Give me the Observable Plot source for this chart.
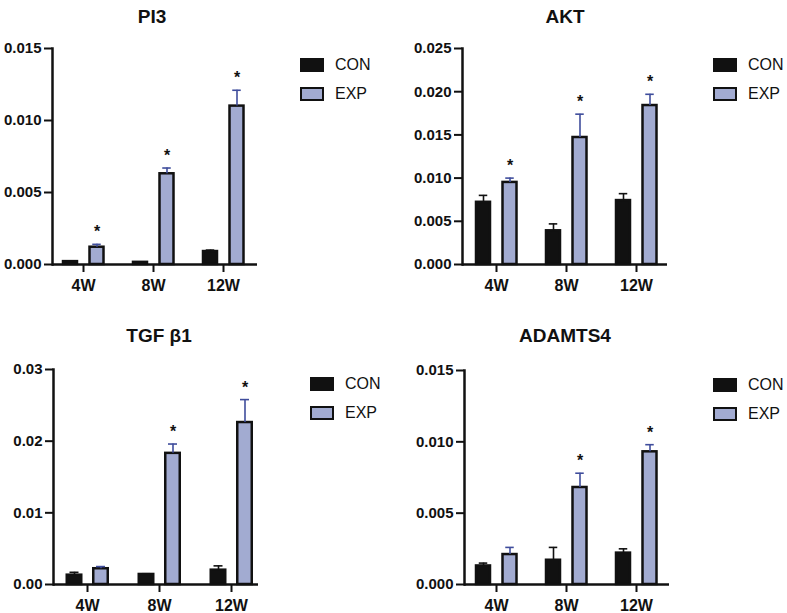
<!DOCTYPE html>
<html>
<head>
<meta charset="utf-8">
<script src="https://cdn.jsdelivr.net/npm/d3@7"></script>
<script src="https://cdn.jsdelivr.net/npm/@observablehq/plot@0.6"></script>
<style>
  body { margin: 0; background: #fff; }
  #chart { position: relative; width: 787px; height: 613px; overflow: hidden; font-family: "Liberation Sans", Arial, sans-serif; color: #111; }
  .abs { position: absolute; }
  .title { font-weight: bold; font-size: 19px; line-height: 1; white-space: nowrap; transform: translateX(-50%); }
  .lg { font-size: 16px; line-height: 1; white-space: nowrap; }
  .box { box-sizing: border-box; width: 24px; height: 14px; border: 2.5px solid #111; }
</style>
</head>
<body>
<div id="chart"></div>
<script>
// ---- data ----
const times = ["4W", "8W", "12W"];
const groups = ["CON", "EXP"];

const pi3Con = [0.0002, 0.00015, 0.0009];
const pi3ConErr = [0.00004, 0.00003, 0.0001];
const pi3Exp = [0.0012, 0.0063, 0.0110];
const pi3ExpErr = [0.0002, 0.0004, 0.0011];
const pi3Sig = [true, true, true];

const aktCon = [0.0072, 0.0039, 0.0074];
const aktConErr = [0.0008, 0.0008, 0.0008];
const aktExp = [0.0095, 0.0147, 0.0184];
const aktExpErr = [0.0005, 0.0027, 0.0013];
const aktSig = [true, true, true];

const tgfCon = [0.0013, 0.0014, 0.0020];
const tgfConErr = [0.0004, 0.0001, 0.0006];
const tgfExp = [0.0022, 0.0183, 0.0226];
const tgfExpErr = [0.0003, 0.0013, 0.0032];
const tgfSig = [false, true, true];

const adaCon = [0.0013, 0.0017, 0.0022];
const adaConErr = [0.0002, 0.0009, 0.0003];
const adaExp = [0.0021, 0.0068, 0.0093];
const adaExpErr = [0.0005, 0.0010, 0.0005];
const adaSig = [false, true, true];

const pi3Ticks = [0, 0.005, 0.010, 0.015];
const aktTicks = [0, 0.005, 0.010, 0.015, 0.020, 0.025];
const tgfTicks = [0, 0.01, 0.02, 0.03];
const adaTicks = [0, 0.005, 0.010, 0.015];

// ---- styles ----
const conColor = "#111111";
const expColor = "#a2abd1";
const expErrColor = "#3f4d9c";
const font = '"Liberation Sans", Arial, sans-serif';

const panels = [
  {title: "PI3", con: pi3Con, conErr: pi3ConErr, exp: pi3Exp, expErr: pi3ExpErr, sig: pi3Sig,
   ticks: pi3Ticks, fmt: d3.format(".3f"),
   L: 0, T: 0, x0: 52, firstTick: 82, step: 70.5, yTop: 48, yBottom: 264,
   titleX: 152, titleY: 16, legX: 300, legY: 58},
  {title: "AKT", con: aktCon, conErr: aktConErr, exp: aktExp, expErr: aktExpErr, sig: aktSig,
   ticks: aktTicks, fmt: d3.format(".3f"),
   L: 390, T: 0, x0: 462, firstTick: 495, step: 70.5, yTop: 48, yBottom: 264,
   titleX: 565, titleY: 16, legX: 713, legY: 58},
  {title: "TGF β1", con: tgfCon, conErr: tgfConErr, exp: tgfExp, expErr: tgfExpErr, sig: tgfSig,
   ticks: tgfTicks, fmt: d3.format(".2f"),
   L: 0, T: 310, x0: 53, firstTick: 87, step: 72, yTop: 369, yBottom: 584,
   titleX: 159, titleY: 335, legX: 310, legY: 377},
  {title: "ADAMTS4", con: adaCon, conErr: adaConErr, exp: adaExp, expErr: adaExpErr, sig: adaSig,
   ticks: adaTicks, fmt: d3.format(".3f"),
   L: 390, T: 310, x0: 464, firstTick: 495, step: 70.5, yTop: 370, yBottom: 584,
   titleX: 565, titleY: 335, legX: 713, legY: 378}
];

const chart = document.getElementById("chart");

function el(cls, css, text) {
  const d = document.createElement("div");
  d.className = cls;
  Object.assign(d.style, css);
  if (text != null) d.textContent = text;
  chart.appendChild(d);
  return d;
}

for (const p of panels) {
  const con = times.map((t, i) => ({time: t, group: groups[0], v: p.con[i], e: p.conErr[i]}));
  const exp = times.map((t, i) => ({time: t, group: groups[1], v: p.exp[i], e: p.expErr[i], sig: p.sig[i]}));
  const W = 290, H = 300;
  const ml = p.x0 - p.L;
  const mr = W - ml - 205;
  const mt = p.yTop - p.T;
  const mb = p.T + H - p.yBottom;
  const s = p.step;
  const r0 = p.firstTick - p.L - s / 2;
  const yMax = p.ticks[p.ticks.length - 1];

  const svg = Plot.plot({
    width: W, height: H,
    marginLeft: ml, marginRight: mr, marginTop: mt, marginBottom: mb,
    style: {fontFamily: font, color: "#111", background: "transparent", overflow: "visible"},
    x: {type: "band", domain: times, range: [r0, r0 + 3 * s], padding: 0, label: null},
    y: {domain: [0, yMax], label: null},
    marks: [
      Plot.barY(con, {x: "time", y: "v", fill: conColor, stroke: conColor, strokeWidth: 2.5,
        insetLeft: s / 2 - 20.25, insetRight: s / 2 + 5.75}),
      Plot.barY(exp, {x: "time", y: "v", fill: expColor, stroke: conColor, strokeWidth: 2.5,
        insetLeft: s / 2 + 6.25, insetRight: s / 2 - 20.75}),
      Plot.ruleX(con, {x: "time", y1: "v", y2: d => d.v + d.e, dx: -13, stroke: conColor, strokeWidth: 1.6}),
      Plot.tickY(con, {x: "time", y: d => d.v + d.e, insetLeft: s / 2 - 17.5, insetRight: s / 2 + 8.5,
        stroke: conColor, strokeWidth: 1.6}),
      Plot.ruleX(exp, {x: "time", y1: "v", y2: d => d.v + d.e, dx: 13.5, stroke: expErrColor, strokeWidth: 1.6}),
      Plot.tickY(exp, {x: "time", y: d => d.v + d.e, insetLeft: s / 2 + 9, insetRight: s / 2 - 18,
        stroke: expErrColor, strokeWidth: 1.6}),
      Plot.text(exp.filter(d => d.sig), {x: "time", y: d => d.v + d.e, text: () => "*", dx: 13.5, dy: -12,
        fontSize: 16, fontWeight: "bold", fill: "#111"}),
      Plot.axisY({ticks: p.ticks, tickFormat: p.fmt, tickSize: 8, tickPadding: 3, fontSize: 15,
        fontWeight: "bold", strokeWidth: 2, label: null}),
      Plot.axisX({tickSize: 8, tickPadding: 7, fontSize: 16, fontWeight: "bold", strokeWidth: 2, label: null}),
      Plot.frame({anchor: "left", strokeWidth: 2.5, stroke: "#111"}),
      Plot.ruleY([0], {strokeWidth: 2.5, stroke: "#111"})
    ]
  });
  svg.style.position = "absolute";
  svg.style.left = p.L + "px";
  svg.style.top = p.T + "px";
  chart.appendChild(svg);

  el("abs title", {left: p.titleX + "px", top: (p.titleY - 0.49 * 19) + "px"}, p.title);

  // legend
  el("abs box", {left: p.legX + "px", top: p.legY + "px", background: conColor});
  el("abs lg", {left: (p.legX + 35) + "px", top: (p.legY + 7 - 0.49 * 16) + "px"}, groups[0]);
  el("abs box", {left: p.legX + "px", top: (p.legY + 29) + "px", background: expColor});
  el("abs lg", {left: (p.legX + 35) + "px", top: (p.legY + 36 - 0.49 * 16) + "px"}, groups[1]);
}
</script>
</body>
</html>
